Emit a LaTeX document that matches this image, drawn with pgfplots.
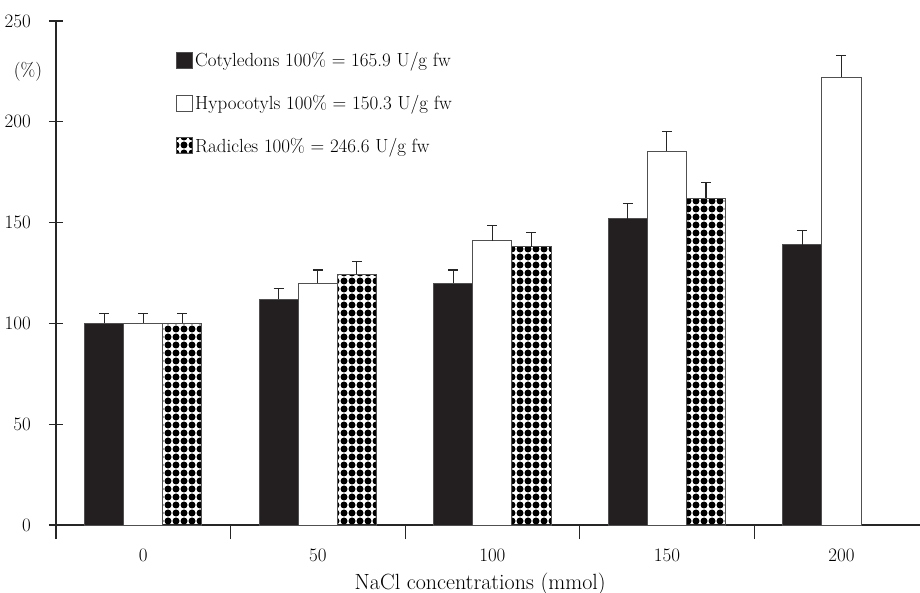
\documentclass[border=0pt]{standalone}
\usepackage{pgfplots}
\pgfplotsset{compat=1.18}
\usetikzlibrary{patterns}
\pgfdeclarepatternformonly{bigdots}{\pgfqpoint{-4pt}{-4pt}}{\pgfqpoint{4pt}{4pt}}{\pgfqpoint{8pt}{8pt}}{\pgfpathcircle{\pgfqpoint{0pt}{0pt}}{3.5pt}\pgfusepath{fill}}
\definecolor{barblack}{HTML}{231F20}
\definecolor{edge}{HTML}{505050}
\newcommand{\chartfont}{\fontsize{19}{22}\selectfont}
\begin{document}
\begin{tikzpicture}[font=\chartfont]
\begin{axis}[
  at={(0pt,0pt)}, anchor=south west,
  scale only axis, width=864pt, height=504pt,
  xmin=-0.5, xmax=4.45, ymin=0, ymax=250,
  clip=false,
  /pgf/number format/assume math mode=true,
  axis x line*=bottom, axis y line*=left,
  axis line style={-, draw=black!85, line width=1.1pt},
  ytick={0,50,100,150,200,250},
  xtick={-0.5,0.5,1.5,2.5,3.5}, xticklabels={},
  extra x ticks={0,1,2,3,4}, extra x tick labels={0,50,100,150,200},
  extra x tick style={major tick length=0pt, xticklabel style={yshift=-20pt}},
  tick align=center, major tick length=14pt,
  tick style={draw=black!85, line width=1.1pt},
  every tick label/.append style={font=\chartfont},
  yticklabel style={inner sep=0pt, xshift=-18pt},
  xlabel={NaCl concentrations (mmol)},
  xlabel style={font=\fontsize{22}{25}\selectfont, at={(rel axis cs:0.491,0)}, anchor=center, yshift=-59pt},
  ybar=0pt, bar width=0.224,
  legend style={at={(rel axis cs:0.139,0.942)}, anchor=north west, draw=none, fill=none,
    font=\chartfont, row sep=23pt, inner sep=0pt},
  legend cell align=left,
  legend image code/.code={\draw[#1, draw=edge, line width=0.9pt] (0pt,-8pt) rectangle (16pt,8pt);},
  error bars/y dir=plus, error bars/y explicit,
  error bars/error bar style={line width=1.1pt, draw=black!85},
  error bars/error mark options={rotate=90, mark size=5pt, line width=1.1pt, draw=black!85},
]
\addplot[fill=barblack, draw=edge, line width=0.9pt] coordinates {
  (0,100) +- (0,5) (1,112) +- (0,5.5) (2,120) +- (0,6.5) (3,152) +- (0,7.5) (4,139) +- (0,7)};
\addlegendentry{Cotyledons 100\% = 165.9 U/g fw}
\addplot[fill=white, draw=edge, line width=0.9pt] coordinates {
  (0,100) +- (0,5) (1,120) +- (0,6.5) (2,141) +- (0,7.5) (3,185.5) +- (0,9.5) (4,222) +- (0,11)};
\addlegendentry{Hypocotyls 100\% = 150.3 U/g fw}
\addplot[pattern=bigdots, pattern color=black, draw=edge, line width=0.9pt] coordinates {
  (0,100) +- (0,5) (1,124.5) +- (0,6) (2,138) +- (0,7) (3,162) +- (0,8)};
\addlegendentry{Radicles 100\% = 246.6 U/g fw}
\node[font=\chartfont] at (rel axis cs:0,0.899) [xshift=-28pt] {(\%)};
\end{axis}
\pgfresetboundingbox
\path[use as bounding box] (-56pt,-68pt) rectangle (864pt,525pt);
\end{tikzpicture}
\end{document}
